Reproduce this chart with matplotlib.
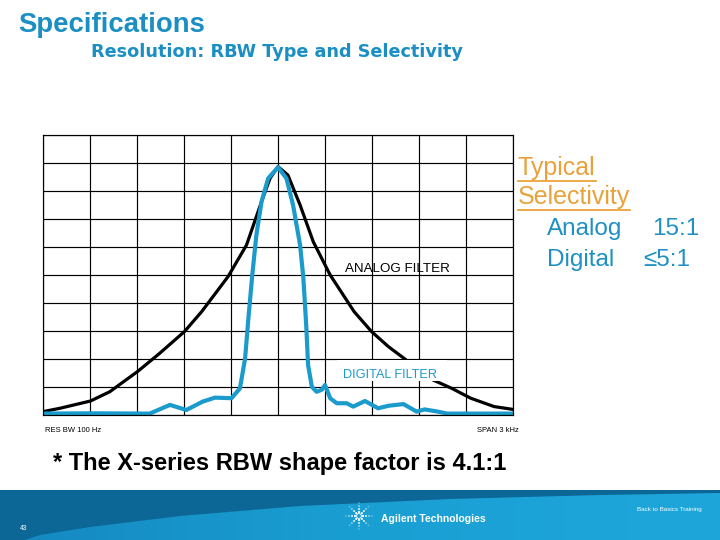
import numpy as np
import matplotlib.pyplot as plt
from matplotlib.patches import Rectangle, Polygon
from matplotlib.lines import Line2D
from matplotlib.colors import LinearSegmentedColormap

plt.rcParams['font.family'] = ['Liberation Sans', 'DejaVu Sans']

# trace values, in screen divisions (10 x 10 graticule)
analog_x = [0, 0.36, 1.01, 1.42, 2.01, 2.48, 3.01, 3.38, 3.94, 4.33, 4.65, 4.83, 5.0,
            5.21, 5.47, 5.75, 6.11, 6.62, 6.99, 7.35, 7.70, 8.0, 8.30, 8.7, 9.1, 9.6, 10.0]
analog_y = [0.12, 0.24, 0.5, 0.83, 1.55, 2.2, 2.98, 3.7, 4.95, 6.07, 7.62, 8.45, 8.87,
            8.57, 7.5, 6.19, 5.0, 3.69, 2.98, 2.44, 2.0, 1.6, 1.25, 0.95, 0.6, 0.3, 0.2]

digital_x = [0, 1.0, 2.27, 2.7, 3.05, 3.4, 3.66, 4.01, 4.19, 4.30, 4.37, 4.45, 4.54, 4.65,
             4.79, 5.0, 5.18, 5.32, 5.47, 5.54, 5.6, 5.64, 5.72, 5.82, 5.93, 6.0, 6.11,
             6.25, 6.46, 6.6, 6.85, 7.13, 7.35, 7.67, 7.95, 8.12, 8.4, 8.6, 10.0]
digital_y = [0.05, 0.06, 0.05, 0.36, 0.18, 0.48, 0.62, 0.6, 0.95, 2.02, 3.45, 4.95, 6.43, 7.62,
             8.45, 8.85, 8.45, 7.5, 6.07, 4.88, 3.21, 1.79, 1.01, 0.83, 0.9, 1.07, 0.6,
             0.42, 0.42, 0.3, 0.5, 0.24, 0.33, 0.39, 0.12, 0.2, 0.12, 0.05, 0.05]

blue = '#1b9bcb'
title_blue = '#1b8fc4'
orange = '#e9a23b'

fig = plt.figure(figsize=(7.2, 5.4), dpi=100)
fig.patch.set_facecolor('white')

def fx(x):
    return x / 720

def fy(y):
    return 1 - y / 540

# graticule
ax = fig.add_axes([fx(43), fy(415), 470 / 720, 280 / 540])
ax.set_xlim(0, 10)
ax.set_ylim(0, 10)
ax.set_xticks(range(11))
ax.set_yticks(range(11))
ax.tick_params(length=0, labelbottom=False, labelleft=False)
ax.grid(True, color='black', lw=0.85)
ax.set_axisbelow(True)
for s in ax.spines.values():
    s.set_linewidth(0.85)

ax.plot(analog_x, analog_y, color='black', lw=2.3, solid_joinstyle='round', zorder=2)
ax.plot(digital_x, digital_y, color=blue, lw=3.0, solid_joinstyle='round', zorder=2.5)

ax.text(6.43, 5.1, 'ANALOG FILTER', fontsize=9.6, color='black', va='baseline', zorder=4)
ax.add_patch(Rectangle((6.25, 1.2), 2.35, 0.77, facecolor='white', edgecolor='none', zorder=3))
ax.text(6.39, 1.31, 'DIGITAL FILTER', fontsize=9.2, color=blue, va='baseline', zorder=4)

# titles
fig.text(fx(18), fy(32), 'Specifications', fontsize=19.8, weight='bold', color=title_blue, va='baseline')
fig.text(fx(91), fy(57), 'Resolution: RBW Type and Selectivity', fontsize=12.7, weight='bold',
         color=title_blue, va='baseline', family=['DejaVu Sans'])

# selectivity box
t1 = fig.text(fx(518), fy(175), 'Typical', fontsize=18, color=orange, va='baseline')
t2 = fig.text(fx(518), fy(204), 'Selectivity', fontsize=18, color=orange, va='baseline')
fig.text(fx(547), fy(235), 'Analog', fontsize=17.5, color='#1e90c3', va='baseline')
fig.text(fx(652), fy(235), '15:1', fontsize=17.5, color='#1e90c3', va='baseline')
fig.text(fx(547), fy(266), 'Digital', fontsize=17.5, color='#1e90c3', va='baseline')
fig.text(fx(643), fy(266), '≤5:1', fontsize=17.5, color='#1e90c3', va='baseline')

# screen annotations
fig.text(fx(45), fy(432), 'RES BW 100 Hz', fontsize=5.5, color='black', va='baseline')
fig.text(fx(519), fy(432), 'SPAN 3 kHz', fontsize=5.5, color='black', va='baseline', ha='right')

fig.text(fx(53), fy(470), '* The X-series RBW shape factor is 4.1:1', fontsize=17,
         weight='bold', color='black', va='baseline')

# footer banner
axb = fig.add_axes([0, 0, 1, 50 / 540])
axb.axis('off')
cmap = LinearSegmentedColormap.from_list('band', ['#1488c0', '#1a9fd3', '#1ea6da'])
grad = np.linspace(0, 1, 256).reshape(1, -1)
axb.imshow(grad, cmap=cmap, extent=[0, 720, 540, 490], aspect='auto')
dark = [(0, 490), (720, 490), (720, 493), (600, 495), (450, 499), (300, 506),
        (180, 516), (90, 527), (40, 535), (25, 540), (0, 540)]
axb.add_patch(Polygon(dark, closed=True, facecolor='#0c6797', edgecolor='none'))
axb.set_xlim(0, 720)
axb.set_ylim(540, 490)

# spark logo
cx, cy = 359, 516
for ang in np.arange(0, 360, 45):
    r = np.array([4, 7, 10, 13])
    axb.scatter(cx + r * np.cos(np.radians(ang)), cy + r * np.sin(np.radians(ang)),
                s=[2.5, 1.8, 1.0, 0.5], color='white', lw=0)
axb.scatter([cx], [cy], s=12, facecolor='none', edgecolor='white', lw=0.6)

axb.text(381, 522, 'Agilent Technologies', fontsize=7.5, weight='bold', color='white', va='baseline')
axb.text(702, 511, 'Back to Basics Training', fontsize=4.5, color='white', ha='right', va='baseline')
axb.text(20, 530, '43', fontsize=4.8, color='white', va='baseline')

# underline the heading words
fig.canvas.draw()
r = fig.canvas.get_renderer()
for t in (t1, t2):
    bb = t.get_window_extent(renderer=r)
    y0 = bb.y0 / fig.bbox.height - 0.002
    fig.add_artist(Line2D([bb.x0 / fig.bbox.width, bb.x1 / fig.bbox.width], [y0, y0],
                          color=orange, lw=1.3))

fig.savefig('out.png', dpi=100)
